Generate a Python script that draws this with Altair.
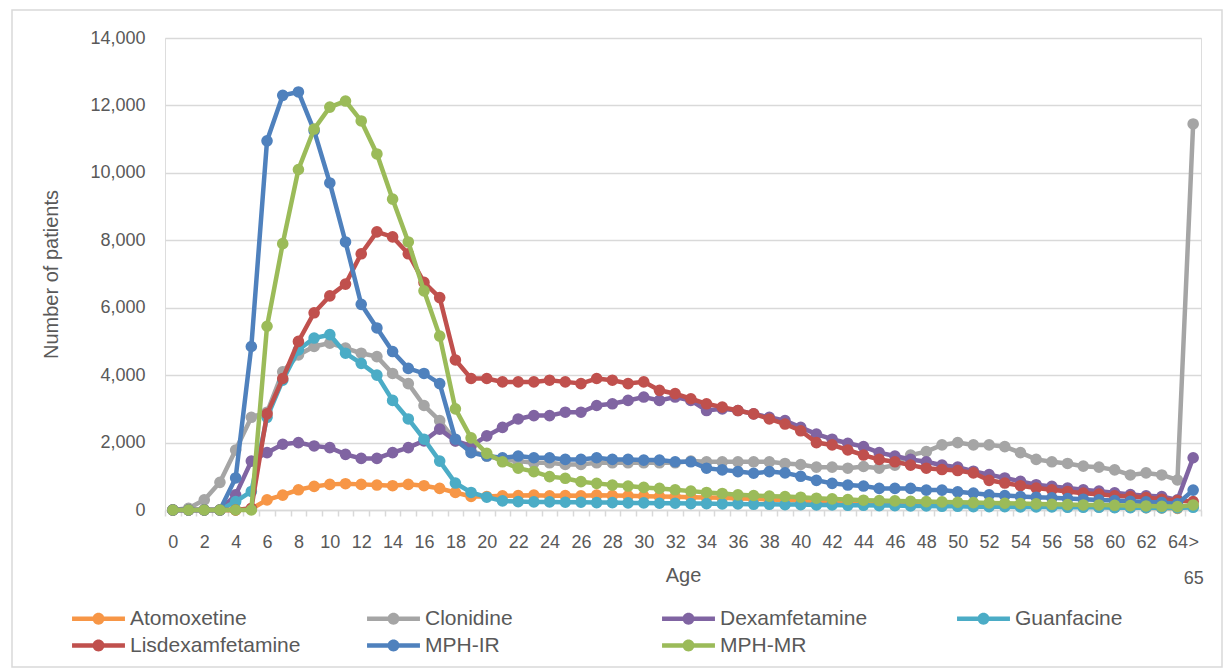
import altair as alt
import pandas as pd

# Age categories: single years 0-64 plus an open-ended ">65" group
ages = [str(a) for a in range(65)] + [">65"]

atomoxetine = [
    0, 0, 0, 0, 0, 30, 300, 440, 600, 700,
    760, 780, 760, 740, 720, 760, 720, 640, 520, 400,
    400, 420, 430, 440, 420, 430, 420, 440, 430, 420,
    410, 400, 390, 380, 370, 360, 340, 330, 310, 300,
    280, 260, 250, 240, 230, 220, 210, 200, 190, 180,
    170, 160, 150, 140, 130, 120, 110, 100, 100, 90,
    80, 80, 70, 60, 50, 100,
]
clonidine = [
    0, 50, 300, 820, 1780, 2750, 2900, 4100, 4600, 4850,
    4950, 4800, 4650, 4550, 4050, 3750, 3100, 2650, 2050, 1750,
    1600, 1500, 1450, 1400, 1400, 1350, 1350, 1400, 1400, 1400,
    1400, 1400, 1400, 1450, 1430, 1430, 1430, 1430, 1430, 1380,
    1350, 1270, 1270, 1240, 1290, 1240, 1330, 1630, 1730, 1930,
    2000, 1930, 1930, 1880, 1700, 1500, 1430, 1380, 1300, 1270,
    1190, 1040, 1100, 1040, 890, 11450,
]
dexamfetamine = [
    0, 0, 0, 0, 450, 1450, 1700, 1950, 2000, 1900,
    1850, 1650, 1530, 1530, 1700, 1850, 2050, 2400, 2050, 1900,
    2200, 2450, 2700, 2800, 2800, 2900, 2900, 3100, 3150, 3250,
    3350, 3250, 3350, 3250, 2950, 3000, 2950, 2850, 2750, 2650,
    2450, 2250, 2100, 1980, 1880, 1700, 1600, 1500, 1430, 1330,
    1270, 1150, 1050, 950, 850, 750, 700, 650, 600, 560,
    510, 460, 420, 400, 300, 1550,
]
guanfacine = [
    0, 0, 0, 0, 250, 550, 2750, 3850, 4750, 5100,
    5200, 4650, 4350, 4000, 3250, 2700, 2100, 1450, 800, 520,
    380, 270, 250, 240, 240, 230, 230, 220, 220, 210,
    210, 200, 200, 190, 190, 180, 180, 170, 170, 160,
    160, 150, 150, 140, 140, 130, 130, 120, 120, 110,
    110, 100, 100, 100, 90, 90, 90, 80, 80, 80,
    70, 70, 70, 60, 60, 80,
]
lisdexamfetamine = [
    0, 0, 0, 0, 0, 50, 2850, 3900, 5000, 5850,
    6350, 6700, 7600, 8250, 8100, 7600, 6750, 6300, 4450, 3900,
    3900, 3800, 3800, 3800, 3850, 3800, 3750, 3900, 3850, 3750,
    3800, 3550, 3450, 3300, 3150, 3050, 2950, 2850, 2700, 2550,
    2350, 2000, 1930, 1780, 1630, 1500, 1430, 1330, 1240, 1200,
    1170, 1100, 880, 800, 720, 650, 600, 550, 500, 470,
    420, 400, 370, 320, 280, 250,
]
mph_ir = [
    0, 0, 0, 0, 950, 4850, 10950, 12300, 12400, 11250,
    9700, 7950, 6100, 5400, 4700, 4200, 4050, 3750, 2100, 1700,
    1600, 1550, 1600, 1550, 1550, 1500, 1500, 1550, 1500, 1500,
    1480, 1480, 1430, 1430, 1240, 1190, 1140, 1090, 1140, 1100,
    1000, 880, 790, 740, 710, 640, 640, 640, 590, 590,
    540, 500, 450, 430, 400, 380, 360, 340, 320, 300,
    280, 260, 240, 220, 180, 590,
]
mph_mr = [
    0, 0, 0, 0, 0, 0, 5450, 7900, 10100, 11300,
    11950, 12130, 11540, 10560, 9220, 7950, 6500, 5160, 3000, 2140,
    1680, 1430, 1240, 1140, 990, 940, 840, 790, 740, 710,
    670, 640, 600, 560, 520, 490, 450, 430, 410, 400,
    380, 350, 330, 310, 290, 280, 270, 260, 250, 240,
    230, 220, 210, 200, 190, 180, 170, 160, 150, 150,
    140, 130, 120, 110, 100, 150,
]

drugs = ["Atomoxetine", "Clonidine", "Dexamfetamine", "Guanfacine",
         "Lisdexamfetamine", "MPH-IR", "MPH-MR"]
colors = ["#F79646", "#A5A5A5", "#8064A2", "#4BACC6",
          "#C0504D", "#4F81BD", "#9BBB59"]
values = [atomoxetine, clonidine, dexamfetamine, guanfacine,
          lisdexamfetamine, mph_ir, mph_mr]

rows = []
for drug, vals in zip(drugs, values):
    for age, v in zip(ages, vals):
        rows.append({"age": age, "drug": drug, "patients": v})
df = pd.DataFrame(rows)

FONT = "Liberation Sans"
TEXT = "#595959"
GRID = "#D9D9D9"

# legend swatch: a thick line with a dot in the middle; the line runs
# past the unit box so the legend rows stay compact
swatch = ("M-1.96,-0.167 L1.96,-0.167 L1.96,0.167 L-1.96,0.167 Z "
          "M-0.44,0 A0.44,0.44 0 1,1 0.44,0 A0.44,0.44 0 1,1 -0.44,0 Z")

x_enc = alt.X(
    "age:N", sort=ages,
    scale=alt.Scale(type="band", paddingInner=0, paddingOuter=0),
    axis=alt.Axis(
        title="Age", labelAngle=0, labelOverlap=False,
        labelExpr="datum.value == '>65' ? ['>', '65'] : "
                  "(toNumber(datum.value) % 2 == 0 ? datum.value : '')",
        labelLineHeight=36, labelPadding=17,
        tickBand="extent", tickSize=6, tickColor=GRID, tickWidth=1.5,
        domainColor=GRID, domainWidth=1.5, grid=False,
        labelFont=FONT, labelFontSize=18, labelColor=TEXT,
        titleFont=FONT, titleFontSize=20, titleColor=TEXT,
        titleFontWeight="normal", titlePadding=-22,
    ),
)
y_enc = alt.Y(
    "patients:Q",
    scale=alt.Scale(domain=[0, 14000], nice=False),
    axis=alt.Axis(
        title="Number of patients", values=list(range(0, 14001, 2000)),
        format=",d", domain=False, ticks=False, labelPadding=20,
        gridColor=GRID, gridWidth=1.5,
        labelFont=FONT, labelFontSize=18, labelColor=TEXT,
        titleFont=FONT, titleFontSize=20, titleColor=TEXT,
        titleFontWeight="normal", titlePadding=28,
    ),
)
color_enc = alt.Color(
    "drug:N",
    scale=alt.Scale(domain=drugs, range=colors),
    legend=alt.Legend(
        title=None, orient="none", legendX=-80, legendY=567,
        direction="horizontal", columns=4, gridAlign="all",
        columnPadding=66, rowPadding=3,
        symbolType=swatch, symbolSize=729, symbolStrokeWidth=0,
        labelFont=FONT, labelFontSize=21, labelColor=TEXT, labelOffset=18,
        labelLimit=400,
    ),
)

base = alt.Chart(df).encode(x=x_enc, y=y_enc, color=color_enc)

layers = []
for drug in drugs:
    sub = base.transform_filter(alt.datum.drug == drug)
    layers.append(sub.mark_line(strokeWidth=4.5))
    layers.append(sub.mark_circle(size=135, opacity=1))

# outer frame around the whole chart area
frame = alt.Chart(pd.DataFrame({"k": [0]})).mark_rect(
    filled=False, stroke=GRID, strokeWidth=1.5
).encode(
    x=alt.value(-153), x2=alt.value(1057),
    y=alt.value(-28), y2=alt.value(629),
)

chart = alt.layer(frame, *layers).properties(
    width=1036, height=472,
    padding={"left": 165, "top": 38, "right": 23, "bottom": 159},
    autosize="none",
).configure_view(stroke=None).configure(background="white")

chart.save("out.html", embed_options={"renderer": "svg", "actions": False})
